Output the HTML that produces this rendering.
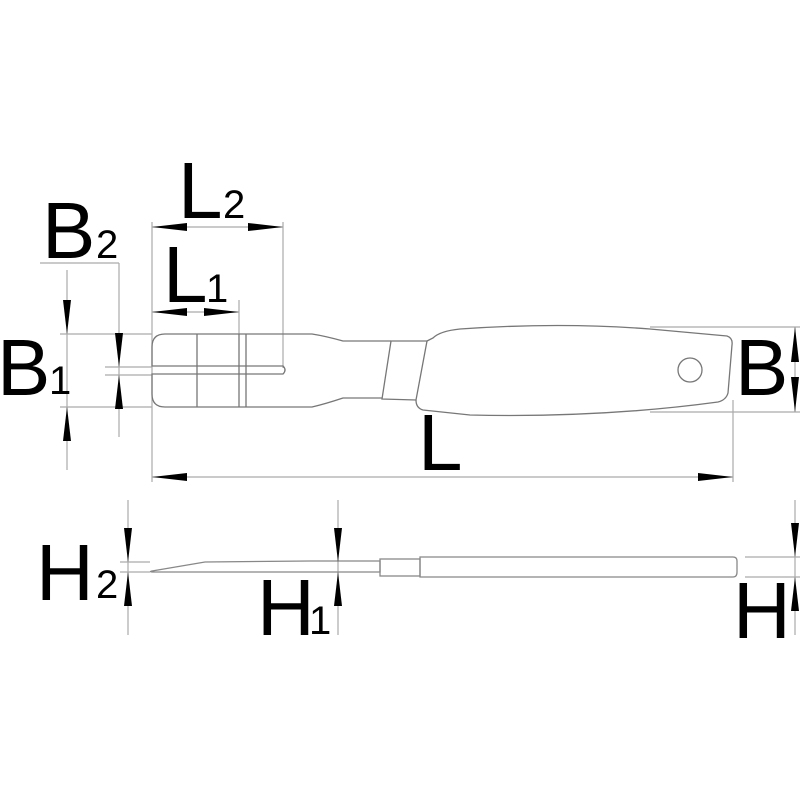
<!DOCTYPE html>
<html><head><style>html,body{margin:0;padding:0;background:#fff}svg{display:block}</style></head><body>
<svg width="800" height="800" viewBox="0 0 800 800" xmlns="http://www.w3.org/2000/svg">
<rect width="800" height="800" fill="#fff"/>
<g stroke="#aaa" stroke-width="1.2" fill="none">
<!-- extension lines top view -->
<line x1="152" y1="222" x2="152" y2="482"/>
<line x1="283" y1="222" x2="283" y2="368"/>
<line x1="239" y1="300" x2="239" y2="334"/>
<line x1="733" y1="400" x2="733" y2="482"/>
<line x1="650" y1="327" x2="800" y2="327"/>
<line x1="650" y1="412" x2="800" y2="412"/>
<line x1="795" y1="327" x2="795" y2="412"/>
<line x1="40" y1="263" x2="119" y2="263"/>
<line x1="119" y1="263" x2="119" y2="437"/>
<line x1="67" y1="270" x2="67" y2="470"/>
<line x1="60" y1="334" x2="152" y2="334"/>
<line x1="60" y1="407" x2="152" y2="407"/>
<line x1="105" y1="367" x2="152" y2="367"/>
<line x1="105" y1="375" x2="152" y2="375"/>
<line x1="152" y1="227" x2="283" y2="227"/>
<line x1="152" y1="312" x2="239" y2="312"/>
<line x1="152" y1="477" x2="733" y2="477"/>
<!-- bottom view ext -->
<line x1="128" y1="500" x2="128" y2="635"/>
<line x1="338" y1="500" x2="338" y2="635"/>
<line x1="795" y1="500" x2="795" y2="635"/>
<line x1="120" y1="562" x2="150" y2="562"/>
<line x1="120" y1="572" x2="150" y2="572"/>
<line x1="745" y1="557" x2="800" y2="557"/>
<line x1="745" y1="577" x2="800" y2="577"/>
</g>
<!-- tool top view -->
<g stroke="#777" stroke-width="1.3" fill="none">
<path d="M165,334 L312,334 Q325,336 343,341 L391,341"/>
<path d="M165,407 L312,407 Q325,404 343,398 L382,398"/>
<path d="M165,334 Q152,334 152,347 L152,366 L283,366 Q287,370 283,374 L152,374 L152,394 Q152,407 165,407"/>
<line x1="197" y1="334" x2="197" y2="407"/>
<line x1="239" y1="334" x2="239" y2="407"/>
<line x1="246" y1="334" x2="246" y2="407"/>
<path d="M391,341 L427,341 L416,400 L382,399 Z"/>
<path d="M427,341 L433,338 Q440,331 460,329 Q560,322 650,329 L727,336 Q733,338 732,345 L728,393 Q726,400 718,402 Q600,418 470,415 L423,410 Q416,408 416,400"/>
<circle cx="690" cy="370" r="12"/>
</g>
<!-- tool side view -->
<g stroke="#888" stroke-width="1.3" fill="none">
<path d="M152,571 L205,562 L310,561 L310,561 L380,561 L380,572 L155,572 Q148,572 152,571 Z"/>
<rect x="310" y="561" width="70" height="11" stroke="none"/>
<rect x="380" y="559" width="40" height="17"/>
<path d="M420,557 L733,557 Q737,557 737,561 L737,572 Q737,577 733,577 L420,577 Z"/>
</g>
<!-- arrows -->
<g fill="#000">
<polygon points="152,227 187,223 187,231"/>
<polygon points="283,227 248,223 248,231"/>
<polygon points="152,312 187,308 187,316"/>
<polygon points="239,312 204,308 204,316"/>
<polygon points="152,477 187,473 187,481"/>
<polygon points="733,477 698,473 698,481"/>
<polygon points="67,334 63,300 71,300"/>
<polygon points="67,407 63,441 71,441"/>
<polygon points="119,367 115,333 123,333"/>
<polygon points="119,375 115,409 123,409"/>
<polygon points="795,327 791,362 799,362"/>
<polygon points="795,412 791,377 799,377"/>
<polygon points="128,562 124,528 132,528"/>
<polygon points="128,572 124,606 132,606"/>
<polygon points="338,562 334,528 342,528"/>
<polygon points="338,572 334,606 342,606"/>
<polygon points="795,557 791,523 799,523"/>
<polygon points="795,577 791,611 799,611"/>
</g>
<g font-family="Liberation Sans, Arial, sans-serif" fill="#000">
<text x="178" y="218" font-size="80">L</text><text x="223" y="218" font-size="40">2</text>
<text x="42" y="258" font-size="80">B</text><text x="96" y="258" font-size="40">2</text>
<text x="163" y="302" font-size="80">L</text><text x="206" y="302" font-size="40">1</text>
<text x="-3" y="395" font-size="80">B</text><text x="49" y="394" font-size="40">1</text>
<text x="418" y="470" font-size="80">L</text>
<text x="735" y="395" font-size="80">B</text>
<text x="36" y="600" font-size="80">H</text><text x="96" y="598" font-size="40">2</text>
<text x="257" y="635" font-size="80">H</text><text x="309" y="634" font-size="40">1</text>
<text x="733" y="638" font-size="80">H</text>
</g>
</svg>
</body></html>
